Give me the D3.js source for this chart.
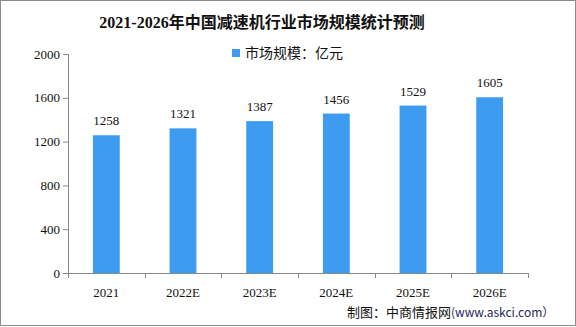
<!DOCTYPE html>
<html>
<head>
<meta charset="utf-8">
<script src="https://cdn.jsdelivr.net/npm/d3@7"></script>
<style>
  body { margin: 0; background: #fff; }
  svg { display: block; }
</style>
</head>
<body>
<div id="chart"></div>
<script>
const years = ["2021", "2022E", "2023E", "2024E", "2025E", "2026E"];
const marketSize = [1258, 1321, 1387, 1456, 1529, 1605];
const yTicks = [0, 400, 800, 1200, 1600, 2000];

const width = 576, height = 327;
const margin = {top: 54, right: 48, bottom: 54, left: 68};

const svg = d3.select("#chart").append("svg")
  .attr("width", width)
  .attr("height", height);

// frame
svg.append("rect")
  .attr("x", 0.5).attr("y", 0.5)
  .attr("width", width - 1).attr("height", height - 2)
  .attr("fill", "none")
  .attr("stroke", "#8c8c8c");

const x = d3.scaleBand()
  .domain(years)
  .range([margin.left, width - margin.right])
  .paddingInner(0.65)
  .paddingOuter(0.325);

const y = d3.scaleLinear()
  .domain([0, 2000])
  .range([height - margin.bottom, margin.top]);

// title
svg.append("text")
  .attr("x", 262)
  .attr("y", 28)
  .attr("text-anchor", "middle")
  .style("font", "bold 16px 'Liberation Serif', 'Noto Sans CJK SC', serif")
  .attr("fill", "#111")
  .text("2021-2026年中国减速机行业市场规模统计预测");

// legend
svg.append("rect")
  .attr("x", 232).attr("y", 49)
  .attr("width", 8).attr("height", 8)
  .attr("fill", "#3d9cf0");
svg.append("text")
  .attr("x", 245).attr("y", 58)
  .style("font", "14px 'Noto Sans CJK SC', sans-serif")
  .attr("fill", "#111")
  .text("市场规模：亿元");

// axes
const yAxis = d3.axisLeft(y).tickValues(yTicks).tickFormat(d3.format("d")).tickSize(5).tickPadding(3);
svg.append("g")
  .attr("transform", `translate(${margin.left},0)`)
  .call(yAxis)
  .call(g => g.selectAll("line, path").attr("stroke", "#888"))
  .call(g => g.selectAll("text")
    .style("font", "13px 'Liberation Serif', serif")
    .attr("fill", "#111"));

const bandStep = x.step();
const xTickPos = d3.range(years.length + 1).map(i => margin.left + i * bandStep);
const xg = svg.append("g");
xg.append("line")
  .attr("x1", margin.left).attr("x2", width - margin.right)
  .attr("y1", y(0) + 0.5).attr("y2", y(0) + 0.5)
  .attr("stroke", "#888");
xg.selectAll("line.tick")
  .data(xTickPos)
  .enter().append("line")
    .attr("class", "tick")
    .attr("x1", d => Math.round(d) + 0.5).attr("x2", d => Math.round(d) + 0.5)
    .attr("y1", y(0)).attr("y2", y(0) + 5)
    .attr("stroke", "#888");
xg.selectAll("text")
  .data(years)
  .enter().append("text")
    .attr("x", d => x(d) + x.bandwidth() / 2)
    .attr("y", y(0) + 24)
    .attr("text-anchor", "middle")
    .style("font", "13px 'Liberation Serif', serif")
    .attr("fill", "#111")
    .text(d => d);

// bars
svg.append("g")
  .selectAll("rect")
  .data(marketSize)
  .enter().append("rect")
    .attr("x", (d, i) => x(years[i]))
    .attr("y", d => y(d))
    .attr("width", x.bandwidth())
    .attr("height", d => y(0) - y(d))
    .attr("fill", "#3d9cf0");

// value labels
svg.append("g")
  .selectAll("text")
  .data(marketSize)
  .enter().append("text")
    .attr("x", (d, i) => x(years[i]) + x.bandwidth() / 2)
    .attr("y", d => y(d) - 10)
    .attr("text-anchor", "middle")
    .style("font", "13px 'Liberation Serif', serif")
    .attr("fill", "#111")
    .text(d => d);

// source
const src = svg.append("text")
  .attr("x", 347).attr("y", 317)
  .style("font", "13px 'Noto Sans CJK SC', sans-serif")
  .attr("fill", "#111");
src.append("tspan").text("制图：中商情报网");
src.append("tspan").attr("fill", "#1f1f5c").style("font-size", "12px").text("(www.askci.com）");
</script>
</body>
</html>
